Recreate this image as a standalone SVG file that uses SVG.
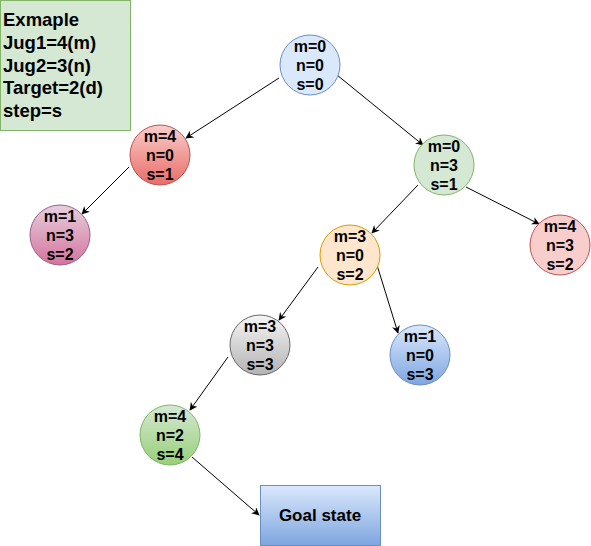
<svg xmlns="http://www.w3.org/2000/svg" width="591" height="546" viewBox="0 0 591 546">
<defs>
<linearGradient id="gRed" x1="0" y1="0" x2="0" y2="1"><stop offset="0" stop-color="#f8cecc"/><stop offset="1" stop-color="#ea6b66"/></linearGradient>
<linearGradient id="gPink" x1="0" y1="0" x2="0" y2="1"><stop offset="0" stop-color="#e6d0de"/><stop offset="1" stop-color="#d5739d"/></linearGradient>
<linearGradient id="gGray" x1="0" y1="0" x2="0" y2="1"><stop offset="0" stop-color="#f5f5f5"/><stop offset="1" stop-color="#b3b3b3"/></linearGradient>
<linearGradient id="gGreen" x1="0" y1="0" x2="0" y2="1"><stop offset="0" stop-color="#d5e8d4"/><stop offset="1" stop-color="#97d077"/></linearGradient>
<linearGradient id="gBlue" x1="0" y1="0" x2="0" y2="1"><stop offset="0" stop-color="#dae8fc"/><stop offset="1" stop-color="#7ea6e0"/></linearGradient>
<marker id="arr" viewBox="0 0 10 10" refX="9" refY="5" markerWidth="8" markerHeight="8" markerUnits="userSpaceOnUse" orient="auto"><path d="M0,0 L10,5 L0,10 L3,5 Z" fill="#000"/></marker>
</defs>
<style>
text{font-family:"Liberation Sans",Arial,sans-serif;font-weight:bold;fill:#000}
.n{font-size:16px;text-anchor:middle}
.l{font-size:18.5px}
.e{stroke:#000;stroke-width:1;fill:none;marker-end:url(#arr)}
</style>
<g id="legend">
<rect x="0.5" y="0.5" width="130" height="130" fill="#d5e8d4" stroke="#82b366"/>
<text class="l" x="3" y="26">Exmaple</text>
<text class="l" x="3" y="49">Jug1=4(m)</text>
<text class="l" x="3" y="72">Jug2=3(n)</text>
<text class="l" x="3" y="94">Target=2(d)</text>
<text class="l" x="3" y="117">step=s</text>
</g>
<g id="connectors">
<line class="e" x1="279" y1="78" x2="186" y2="138"/>
<line class="e" x1="337" y1="75" x2="423" y2="145"/>
<line class="e" x1="129" y1="167" x2="82" y2="214"/>
<line class="e" x1="418" y1="185" x2="372" y2="233"/>
<line class="e" x1="466" y1="187" x2="539" y2="224"/>
<line class="e" x1="318" y1="267" x2="279" y2="320"/>
<line class="e" x1="377" y1="265" x2="398" y2="333"/>
<line class="e" x1="228" y1="357" x2="190" y2="410"/>
<line class="e" x1="192" y1="457" x2="259" y2="515"/>
</g>
<g id="s000"><circle cx="310" cy="65" r="30" fill="#dae8fc" stroke="#6c8ebf"/><text class="n" x="310" y="52">m=0</text><text class="n" x="310" y="71">n=0</text><text class="n" x="310" y="90">s=0</text></g>
<g id="s401"><circle cx="160" cy="155" r="30" fill="url(#gRed)" stroke="#b85450"/><text class="n" x="160" y="142">m=4</text><text class="n" x="160" y="161">n=0</text><text class="n" x="160" y="180">s=1</text></g>
<g id="s132"><circle cx="60" cy="235" r="30" fill="url(#gPink)" stroke="#996185"/><text class="n" x="60" y="222">m=1</text><text class="n" x="60" y="241">n=3</text><text class="n" x="60" y="260">s=2</text></g>
<g id="s031"><circle cx="444" cy="165" r="30" fill="#d5e8d4" stroke="#82b366"/><text class="n" x="444" y="152">m=0</text><text class="n" x="444" y="171">n=3</text><text class="n" x="444" y="190">s=1</text></g>
<g id="s302"><circle cx="350" cy="255" r="30" fill="#ffe6cc" stroke="#d79b00"/><text class="n" x="350" y="242">m=3</text><text class="n" x="350" y="261">n=0</text><text class="n" x="350" y="280">s=2</text></g>
<g id="s432"><circle cx="560" cy="245" r="30" fill="#f8cecc" stroke="#b85450"/><text class="n" x="560" y="232">m=4</text><text class="n" x="560" y="251">n=3</text><text class="n" x="560" y="270">s=2</text></g>
<g id="s333"><circle cx="260" cy="345" r="30" fill="url(#gGray)" stroke="#666666"/><text class="n" x="260" y="332">m=3</text><text class="n" x="260" y="351">n=3</text><text class="n" x="260" y="370">s=3</text></g>
<g id="s103"><circle cx="420" cy="355" r="30" fill="url(#gBlue)" stroke="#6c8ebf"/><text class="n" x="420" y="342">m=1</text><text class="n" x="420" y="361">n=0</text><text class="n" x="420" y="380">s=3</text></g>
<g id="s424"><circle cx="170" cy="435" r="30" fill="url(#gGreen)" stroke="#82b366"/><text class="n" x="170" y="422">m=4</text><text class="n" x="170" y="441">n=2</text><text class="n" x="170" y="460">s=4</text></g>
<g id="goal"><rect x="260.5" y="485.5" width="120" height="60" fill="url(#gBlue)" stroke="#6c8ebf"/><text x="320" y="521" font-size="17" text-anchor="middle">Goal state</text></g>
</svg>
